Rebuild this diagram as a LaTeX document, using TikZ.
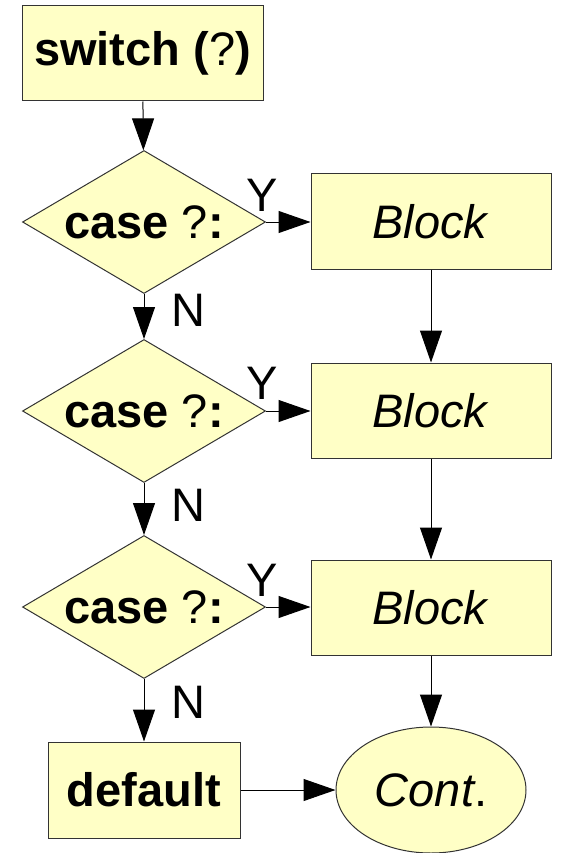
\documentclass[tikz,border=0pt]{standalone}
\usepackage{fontspec}
\setmainfont{Liberation Sans}
\usetikzlibrary{shapes.geometric,arrows.meta}
\definecolor{chartfill}{HTML}{FFFFC6}
\definecolor{chartline}{HTML}{333333}
\begin{document}
\begin{tikzpicture}[x=1pt,y=-1pt,
    font=\fontsize{47}{50}\selectfont,
    box/.style={draw=chartline, fill=chartfill, line width=1pt, inner sep=0pt, minimum height=95pt},
    decision/.style={diamond, aspect=1.7, draw=chartline, fill=chartfill, line width=1pt, inner sep=0pt, minimum width=243pt, minimum height=143pt},
    flow/.style={-{Triangle[length=32pt,width=22pt]}, line width=1pt},
    answer/.style={inner sep=0pt}]
  \useasboundingbox (0,0) rectangle (562,853);

  \node[box, minimum width=241pt] (switch) at (142.5,53.5) {\textbf{switch (}?\textbf{)}};

  \node[decision] (case1) at (144,222) {\textbf{case} ?\textbf{:}};
  \node[decision] (case2) at (144,411) {\textbf{case} ?\textbf{:}};
  \node[decision] (case3) at (144,607) {\textbf{case} ?\textbf{:}};

  \node[box, minimum width=240pt] (block1) at (431,221.5) {\textit{Block}};
  \node[box, minimum width=240pt] (block2) at (431,410.5) {\textit{Block}};
  \node[box, minimum width=240pt] (block3) at (431,607.5) {\textit{Block}};

  \node[box, minimum width=192pt, minimum height=96pt] (default) at (144,790) {\textbf{default}};
  \node[ellipse, draw=chartline, fill=chartfill, line width=1pt, inner sep=0pt,
        minimum width=190pt, minimum height=126pt] (cont) at (431,790) {\textit{Cont}.};

  % answers
  \node[answer] (yes1) at (262,195) {Y};
  \node[answer] (no1) at (188,310) {N};
  \node[answer] (yes2) at (262,383) {Y};
  \node[answer] (no2) at (188,505) {N};
  \node[answer] (yes3) at (262,580) {Y};
  \node[answer] (no3) at (188,702) {N};

  \draw[flow] (switch) -- (case1);
  \draw[flow] (case1) -- (case2);
  \draw[flow] (case2) -- (case3);
  \draw[flow] (case3) -- (default);

  \draw[flow] (case1.east) -- (case1.east -| block1.west);
  \draw[flow] (case2.east) -- (case2.east -| block2.west);
  \draw[flow] (case3.east) -- (case3.east -| block3.west);

  \draw[flow] (block1) -- (block2);
  \draw[flow] (block2) -- (block3);
  \draw[flow] (block3) -- (cont);
  \draw[flow] (default) -- (cont);
\end{tikzpicture}
\end{document}
